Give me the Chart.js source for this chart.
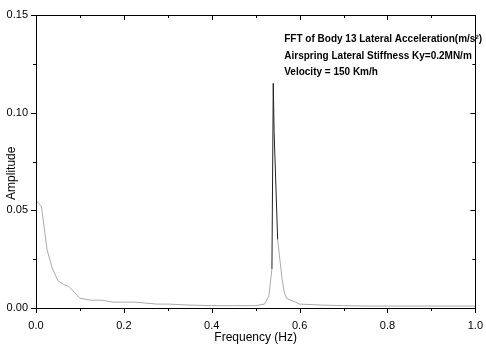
<!DOCTYPE html>
<html>
<head>
<meta charset="utf-8">
<script src="https://cdn.jsdelivr.net/npm/chart.js@4"></script>
<style>
  html, body { margin: 0; padding: 0; background: #fff; }
  #wrap { width: 486px; height: 349px; position: relative; }
</style>
</head>
<body>
<div id="wrap"><canvas id="c" width="486" height="349"></canvas></div>
<script>
// Data (frequency in Hz, amplitude)
const frequencies = [0.0, 0.0125, 0.025, 0.0375, 0.05, 0.0625, 0.075, 0.0875, 0.1, 0.125, 0.15, 0.175, 0.2, 0.225, 0.25, 0.275, 0.3, 0.35, 0.4, 0.45, 0.5, 0.52, 0.53, 0.537, 0.54, 0.542, 0.55, 0.555, 0.56, 0.565, 0.57, 0.58, 0.59, 0.6, 0.65, 0.7, 0.75, 0.8, 0.85, 0.9, 0.95, 1.0];
const amplitudes  = [0.055, 0.052, 0.03, 0.02, 0.014, 0.012, 0.011, 0.008, 0.005, 0.004, 0.004, 0.003, 0.003, 0.003, 0.0025, 0.002, 0.002, 0.0015, 0.0012, 0.0012, 0.0012, 0.002, 0.006, 0.02, 0.115, 0.09, 0.035, 0.025, 0.015, 0.008, 0.005, 0.004, 0.003, 0.002, 0.0015, 0.0012, 0.001, 0.001, 0.001, 0.001, 0.001, 0.001];
const xMajorTicks = [0.0, 0.2, 0.4, 0.6, 0.8, 1.0];
const xMinorTicks = [0.1, 0.3, 0.5, 0.7, 0.9];
const yMajorTicks = [0.0, 0.05, 0.10, 0.15];
const yMinorTicks = [0.025, 0.075, 0.125];
const yAxisTitle = 'Amplitude';
const xAxisTitle = 'Frequency (Hz)';
const annotationLines = [
  'FFT of Body 13 Lateral Acceleration(m/s\u00B2)',
  'Airspring Lateral Stiffness Ky=0.2MN/m',
  'Velocity = 150 Km/h'
];

const FONT = '"Liberation Sans", Arial, sans-serif';
const points = frequencies.map((f, i) => ({ x: f, y: amplitudes[i] }));

const framePlugin = {
  id: 'frame',
  afterDraw(chart) {
    const { ctx, chartArea: a, scales: { x, y } } = chart;
    ctx.save();
    ctx.strokeStyle = '#000';
    ctx.lineWidth = 1;
    ctx.beginPath();
    ctx.rect(Math.round(a.left) + 0.5, Math.round(a.top) + 0.5, Math.round(a.right - a.left), Math.round(a.bottom - a.top));
    ctx.stroke();
    const tick = (x1, y1, x2, y2) => { ctx.moveTo(x1, y1); ctx.lineTo(x2, y2); };
    ctx.beginPath();
    xMajorTicks.forEach(v => {
      const px = Math.round(x.getPixelForValue(v)) + 0.5;
      tick(px, a.bottom, px, a.bottom + 5);
      tick(px, a.top, px, a.top + 5);
    });
    xMinorTicks.forEach(v => {
      const px = Math.round(x.getPixelForValue(v)) + 0.5;
      tick(px, a.bottom, px, a.bottom + 3);
      tick(px, a.top, px, a.top + 3);
    });
    yMajorTicks.forEach(v => {
      const py = Math.round(y.getPixelForValue(v)) + 0.5;
      tick(a.left - 5, py, a.left, py);
      tick(a.right - 5, py, a.right, py);
    });
    yMinorTicks.forEach(v => {
      const py = Math.round(y.getPixelForValue(v)) + 0.5;
      tick(a.left - 3, py, a.left, py);
      tick(a.right - 3, py, a.right, py);
    });
    ctx.stroke();
    // y axis title
    ctx.fillStyle = '#000';
    ctx.font = '12px ' + FONT;
    ctx.textAlign = 'center';
    ctx.textBaseline = 'middle';
    ctx.save();
    ctx.translate(12, y.getPixelForValue(0.069));
    ctx.rotate(-Math.PI / 2);
    ctx.fillText(yAxisTitle, 0, 0);
    ctx.restore();
    // annotation text
    ctx.font = 'bold 10px ' + FONT;
    ctx.textAlign = 'left';
    const tx = x.getPixelForValue(0.565);
    annotationLines.forEach((t, i) => {
      ctx.fillText(t, tx, y.getPixelForValue(0.1375) + i * 16.5);
    });
    ctx.restore();
  }
};

new Chart(document.getElementById('c'), {
  type: 'line',
  data: {
    datasets: [{
      data: points,
      borderColor: '#555',
      borderWidth: 1,
      pointRadius: 0,
      tension: 0,
      fill: false,
      segment: {
        borderColor: c => (Math.max(c.p0.parsed.y, c.p1.parsed.y) > 0.06 ? '#222' : '#aaa')
      }
    }]
  },
  options: {
    responsive: false,
    animation: false,
    devicePixelRatio: 1,
    layout: { padding: { top: 15, right: 6, left: 0, bottom: 4 } },
    plugins: { legend: { display: false }, tooltip: { enabled: false } },
    scales: {
      x: {
        type: 'linear',
        min: 0, max: 1,
        grid: { display: false },
        border: { display: false },
        afterBuildTicks: s => { s.ticks = xMajorTicks.map(v => ({ value: v })); },
        afterFit: s => { s.height = 37; },
        ticks: {
          padding: 3,
          color: '#000',
          font: { family: FONT, size: 11 },
          maxRotation: 0,
          callback: v => Number(v).toFixed(1)
        },
        title: {
          display: true,
          text: xAxisTitle,
          color: '#000',
          font: { family: FONT, size: 12 },
          padding: { top: 0, bottom: 0 }
        }
      },
      y: {
        type: 'linear',
        min: 0, max: 0.15,
        grid: { display: false },
        border: { display: false },
        afterBuildTicks: s => { s.ticks = yMajorTicks.map(v => ({ value: v })); },
        afterFit: s => { s.width = 36; },
        ticks: {
          padding: 0,
          color: '#000',
          font: { family: FONT, size: 11 },
          callback: v => Number(v).toFixed(2)
        }
      }
    }
  },
  plugins: [framePlugin]
});
</script>
</body>
</html>
